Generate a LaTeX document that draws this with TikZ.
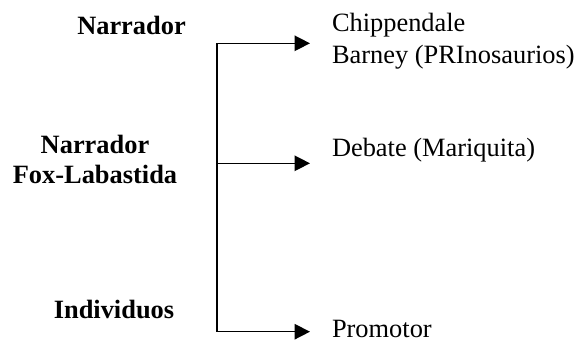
\documentclass[tikz,border=0pt]{standalone}
\usepackage{fontspec}
\setmainfont{Liberation Serif}
\usetikzlibrary{arrows.meta}
\begin{document}
\begin{tikzpicture}[x=1bp,y=-1bp,
  every node/.style={inner sep=0pt, outer sep=0pt, font=\fontsize{26.4bp}{31.6bp}\selectfont},
  lbl/.style={font=\fontsize{26.4bp}{30bp}\selectfont\bfseries, align=center, anchor=base},
  tgt/.style={align=left, anchor=base west},
  link/.style={line width=1.5bp, line join=miter},
  arr/.style={link, -{Triangle[length=15.5bp,width=15.5bp]}}]
\useasboundingbox (0,0) rectangle (580,341);
\node[lbl] (n1) at (131.5,34.3) {Narrador};
\node[lbl] (n2) at (95,183.3) {Narrador\\Fox-Labastida};
\node[lbl] (n3) at (114,318.3) {Individuos};
\node[tgt] (t1) at (332,63.3) {Chippendale\\Barney (PRInosaurios)};
\node[tgt] (t2) at (332,156.7) {Debate (Mariquita)};
\node[tgt] (t3) at (332,337) {Promotor};
\coordinate (top) at (217,43.3);
\coordinate (mid) at (217,163.3);
\coordinate (bot) at (217,331.7);
\coordinate (e1) at ([xshift=-22bp]t1.west);
\coordinate (e2) at ([xshift=-22bp]t2.west);
\coordinate (e3) at ([xshift=-22bp]t3.west);
\draw[link, {Triangle[length=15.5bp,width=15.5bp]}-{Triangle[length=15.5bp,width=15.5bp]}] (top -| e1) -- (top) -- (bot) -- (bot -| e3);
\draw[arr] (mid) -- (mid -| e2);
\end{tikzpicture}
\end{document}
